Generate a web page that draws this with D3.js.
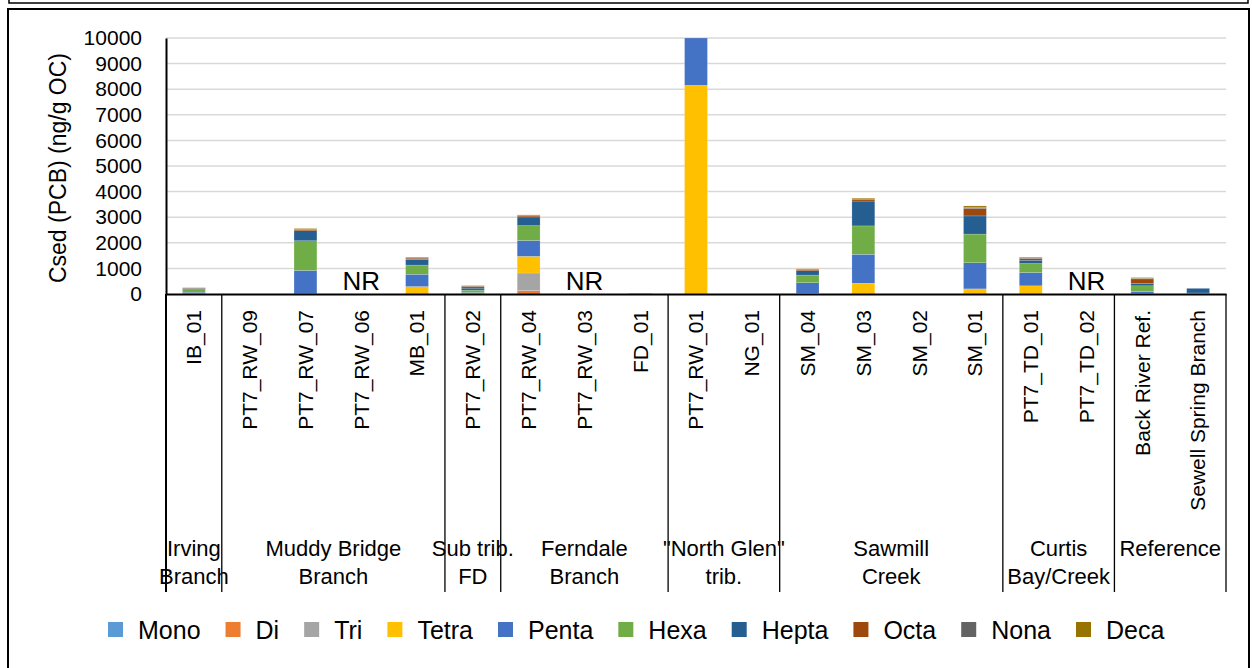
<!DOCTYPE html>
<html>
<head>
<meta charset="utf-8">
<script src="https://cdn.jsdelivr.net/npm/d3@7"></script>
<style>
  body { margin: 0; background: #fff; }
  text { font-family: 'Liberation Sans', Arial, sans-serif; fill: #000; }
</style>
</head>
<body>
<div id="chart"></div>
<script>
// sites along the x axis
var categories = ['IB_01', 'PT7_RW_09', 'PT7_RW_07', 'PT7_RW_06', 'MB_01', 'PT7_RW_02', 'PT7_RW_04',
	'PT7_RW_03', 'FD_01', 'PT7_RW_01', 'NG_01', 'SM_04', 'SM_03', 'SM_02', 'SM_01',
	'PT7_TD_01', 'PT7_TD_02', 'Back River Ref.', 'Sewell Spring Branch'];
// not reported sites
var notReported = ['PT7_RW_06', 'PT7_RW_03', 'PT7_TD_02'];
// watershed groups: label lines and number of sites in each
var groupLabels = [['Irving', 'Branch'], ['Muddy Bridge', 'Branch'], ['Sub trib.', 'FD'], ['Ferndale', 'Branch'],
	['"North Glen"', 'trib.'], ['Sawmill', 'Creek'], ['Curtis', 'Bay/Creek'], ['Reference']];
var groupSizes = [1, 4, 1, 3, 2, 4, 2, 2];
// homolog groups
var homologs = ['Mono', 'Di', 'Tri', 'Tetra', 'Penta', 'Hexa', 'Hepta', 'Octa', 'Nona', 'Deca'];
var colors = ['#5B9BD5', '#ED7D31', '#A5A5A5', '#FFC000', '#4472C4', '#70AD47', '#255E91', '#9E480E', '#636363', '#997300'];
// Csed values (ng/g OC), one array per homolog, in category order
var mono  = [0, 0, 0, 0, 0, 0, 0, 0, 0, 0, 0, 0, 0, 0, 0, 0, 0, 0, 0];
var di    = [0, 0, 0, 0, 0, 0, 130, 0, 5, 0, 0, 0, 0, 0, 0, 0, 0, 0, 0];
var tri   = [0, 0, 0, 0, 0, 0, 690, 0, 0, 0, 0, 0, 0, 0, 0, 0, 0, 0, 0];
var tetra = [20, 0, 10, 0, 290, 20, 650, 0, 10, 8150, 0, 30, 420, 0, 200, 320, 0, 20, 0];
var penta = [50, 0, 910, 0, 480, 40, 620, 0, 5, 1850, 0, 410, 1130, 0, 1020, 520, 0, 80, 20];
var hexa  = [100, 0, 1160, 0, 360, 90, 580, 0, 5, 0, 0, 300, 1110, 0, 1120, 350, 0, 220, 20];
var hepta = [50, 0, 390, 0, 220, 80, 340, 0, 0, 0, 0, 170, 970, 0, 710, 130, 0, 100, 180];
var octa  = [15, 0, 50, 0, 50, 70, 40, 0, 5, 0, 0, 50, 70, 0, 290, 70, 0, 170, 0];
var nona  = [5, 0, 20, 0, 20, 15, 10, 0, 0, 0, 0, 20, 20, 0, 40, 20, 0, 20, 0];
var deca  = [10, 0, 20, 0, 20, 15, 30, 0, 0, 0, 0, 10, 30, 0, 60, 30, 0, 30, 0];
var series = [mono, di, tri, tetra, penta, hexa, hepta, octa, nona, deca];
var yTicks = [0, 1000, 2000, 3000, 4000, 5000, 6000, 7000, 8000, 9000, 10000];

// chart parameters
var svpWidth = 1252;
var svpHeight = 668;
var plot = {left: 166, right: 1226, top: 38, bottom: 294};
var groupBottom = 592;

var svg = d3.select('#chart')
	.append('svg')
	.attr('width', svpWidth)
	.attr('height', svpHeight);

// frames
svg.append('rect')
	.attr('x', 9).attr('y', -10).attr('width', 1239).attr('height', 13)
	.style('fill', 'none').style('stroke', '#000').style('stroke-width', 1.5);
svg.append('rect')
	.attr('x', 8).attr('y', 9).attr('width', 1241).attr('height', 680)
	.style('fill', 'none').style('stroke', '#000').style('stroke-width', 2);

// build table for stacking
var table = categories.map(function (c, i) {
	var row = {site: c};
	homologs.forEach(function (h, j) { row[h] = series[j][i]; });
	return row;
});
var stacked = d3.stack().keys(homologs)(table);

// scales
var x = d3.scaleBand()
	.domain(categories)
	.range([plot.left, plot.right])
	.paddingInner(0.59)
	.paddingOuter(0.295);
var y = d3.scaleLinear()
	.domain([0, 10000])
	.range([plot.bottom, plot.top]);

// gridlines
svg.append('g')
	.selectAll('line')
	.data(yTicks.slice(1))
	.enter()
	.append('line')
	.attr('x1', plot.left).attr('x2', plot.right)
	.attr('y1', d => y(d)).attr('y2', d => y(d))
	.style('stroke', '#D9D9D9')
	.style('stroke-width', 1.5);

// bars
svg.append('g')
	.selectAll('g')
	.data(stacked)
	.enter()
	.append('g')
	.style('fill', (d, i) => colors[i])
	.selectAll('rect')
	.data(d => d)
	.enter()
	.append('rect')
	.attr('x', d => x(d.data.site))
	.attr('width', x.bandwidth())
	.attr('y', d => y(d[1]))
	.attr('height', d => y(d[0]) - y(d[1]))
	.style('stroke', 'rgba(255,255,255,0.35)')
	.style('stroke-width', 0.5);

// NR labels
svg.append('g')
	.selectAll('text')
	.data(notReported)
	.enter()
	.append('text')
	.attr('x', d => x(d) + x.bandwidth() / 2)
	.attr('y', 290)
	.attr('text-anchor', 'middle')
	.style('font-size', '26px')
	.text('NR');

// y-axis
var yAxis = svg.append('g')
	.attr('transform', 'translate(' + plot.left + ',0)')
	.call(d3.axisLeft(y).tickValues(yTicks).tickSize(0).tickPadding(24).tickFormat(d3.format('d')));
yAxis.select('.domain').style('stroke', '#000').style('stroke-width', 2);
yAxis.selectAll('text')
	.style('font-family', "'Liberation Sans', Arial, sans-serif")
	.style('font-size', '21px');

// y-axis label
svg.append('text')
	.attr('text-anchor', 'middle')
	.attr('transform', 'translate(66,168) rotate(-90)')
	.style('font-size', '23px')
	.text('Csed (PCB) (ng/g OC)');

// x-axis with rotated site names
var xAxis = svg.append('g')
	.attr('transform', 'translate(0,' + plot.bottom + ')')
	.call(d3.axisBottom(x).tickSize(0).tickSizeOuter(0));
xAxis.select('.domain').style('stroke', '#000').style('stroke-width', 2);
xAxis.selectAll('text')
	.attr('transform', 'rotate(-90)')
	.attr('x', -16)
	.attr('y', 0)
	.attr('dy', '0.35em')
	.style('text-anchor', 'end')
	.style('font-family', "'Liberation Sans', Arial, sans-serif")
	.style('font-size', '21px');

// group separators and labels
var half = (x.step() - x.bandwidth()) / 2;
var start = 0;
var bounds = [plot.left];
groupSizes.forEach(function (n) {
	start += n;
	bounds.push(start < categories.length ? x(categories[start]) - half : plot.right);
});
svg.append('g')
	.selectAll('line')
	.data(bounds)
	.enter()
	.append('line')
	.attr('x1', d => d).attr('x2', d => d)
	.attr('y1', plot.bottom).attr('y2', groupBottom)
	.style('stroke', '#000')
	.style('stroke-width', (d, i) => i == 0 ? 2 : 1.3);

var glabels = svg.append('g')
	.selectAll('text')
	.data(groupLabels)
	.enter()
	.append('text')
	.attr('text-anchor', 'middle')
	.attr('x', (d, i) => (bounds[i] + bounds[i + 1]) / 2)
	.attr('y', 556)
	.style('font-size', '22px');
glabels.selectAll('tspan')
	.data(d => d)
	.enter()
	.append('tspan')
	.attr('x', function () { return d3.select(this.parentNode).attr('x'); })
	.attr('dy', (d, i) => i == 0 ? 0 : 28)
	.text(d => d);

// legend
var legend = svg.append('g');
var lx = 108;
homologs.forEach(function (h, i) {
	legend.append('rect')
		.attr('x', lx).attr('y', 622)
		.attr('width', 15).attr('height', 15)
		.style('fill', colors[i]);
	var t = legend.append('text')
		.attr('x', lx + 30)
		.attr('y', 639)
		.style('font-size', '25px')
		.text(h);
	lx += 30 + t.node().getComputedTextLength() + 25;
});
</script>
</body>
</html>
